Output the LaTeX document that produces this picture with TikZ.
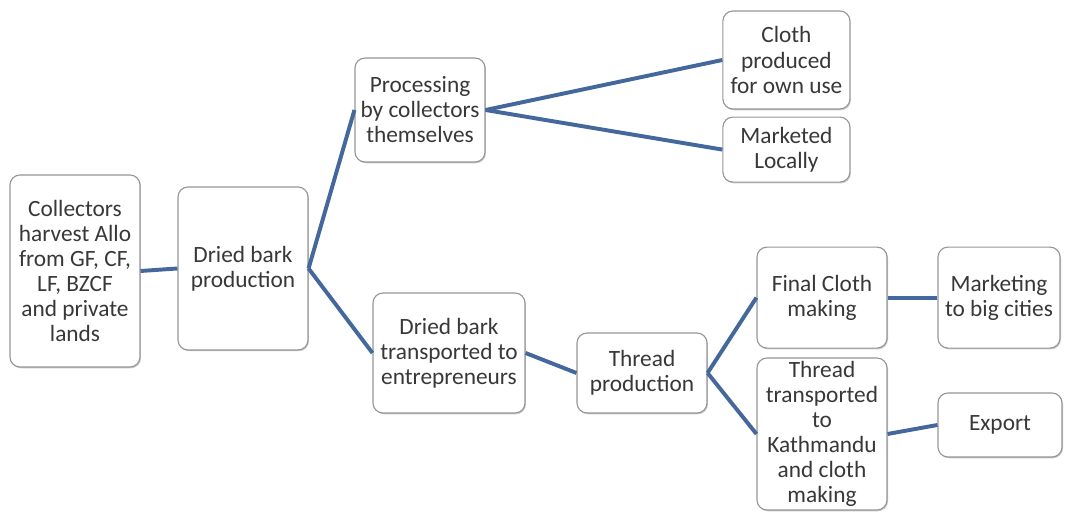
\documentclass[tikz,border=0pt]{standalone}
\usepackage{fontspec}
\setmainfont{Carlito}
\definecolor{linkblue}{RGB}{68,104,155}
\definecolor{boxgrey}{RGB}{150,150,150}
\usetikzlibrary{shadows}

\begin{document}
\begin{tikzpicture}[
    stage/.style={draw=boxgrey, line width=0.8pt, fill=white, rounded corners=0.25cm,
      align=center, inner sep=0pt, text=black!78,
      font=\fontsize{16.6}{17.8}\selectfont,
      drop shadow={shadow xshift=0.7pt, shadow yshift=-0.9pt, opacity=0.35, fill=black!60}},
    link/.style={linkblue, line width=2.8pt}
  ]
  \useasboundingbox (0,0) rectangle (26.625,12.8);

  % Harvest and drying
  \node[stage, minimum width=3.25cm, minimum height=4.8cm] (coll) at (1.875,6.025)
    {Collectors\\harvest Allo\\from GF, CF,\\LF, BZCF\\and private\\lands};
  \node[stage, minimum width=3.25cm, minimum height=4.075cm] (dry) at (6.075,6.088)
    {Dried bark\\production};

  % Upper branch: collectors process the bark
  \node[stage, minimum width=3.25cm, minimum height=2.6cm] (proc) at (10.5,10.05)
    {Processing\\by collectors\\themselves};
  \node[stage, minimum width=3.175cm, minimum height=2.45cm] (cloth) at (19.66,11.3)
    {Cloth\\produced\\for own use};
  \node[stage, minimum width=3.175cm, minimum height=1.625cm] (local) at (19.66,9.06)
    {Marketed\\Locally};

  % Lower branch: entrepreneurs
  \node[stage, minimum width=3.8cm, minimum height=3cm] (trans) at (11.225,3.975)
    {Dried bark\\transported to\\entrepreneurs};
  \node[stage, minimum width=3.25cm, minimum height=2cm] (thread) at (16.05,3.475)
    {Thread\\production};
  \node[stage, minimum width=3.25cm, minimum height=2.525cm] (final) at (20.55,5.36)
    {Final Cloth\\making};
  \node[stage, minimum width=3.05cm, minimum height=2.525cm] (market) at (24.975,5.36)
    {Marketing\\to big cities};
  \node[stage, minimum width=3.25cm, minimum height=3.8cm] (ktm) at (20.55,1.95)
    {Thread\\transported\\to\\Kathmandu\\and cloth\\making};
  \node[stage, minimum width=3.1cm, minimum height=1.6cm] (export) at (25.0,2.175)
    {Export};

  % Links
  \draw[link] (coll.east) -- (dry.west);
  \draw[link] (dry.east) -- (proc.west);
  \draw[link] (dry.east) -- (trans.west);
  \draw[link] (proc.east) -- (cloth.west);
  \draw[link] (proc.east) -- (local.west);
  \draw[link] (trans.east) -- (thread.west);
  \draw[link] (thread.east) -- (final.west);
  \draw[link] (thread.east) -- (ktm.west);
  \draw[link] (final.east) -- (market.west);
  \draw[link] (ktm.east) -- (export.west);
\end{tikzpicture}
\end{document}
